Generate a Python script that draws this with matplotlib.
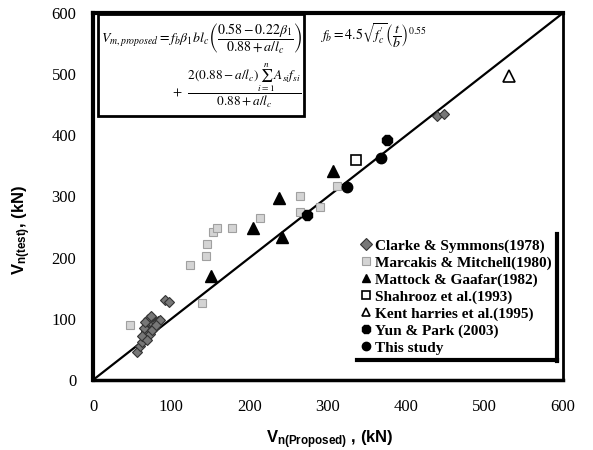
import matplotlib
matplotlib.use("Agg")
import matplotlib.pyplot as plt
from matplotlib.lines import Line2D
from matplotlib.patches import Rectangle

# shear strength: proposed model (x) vs. test (y), kN
clarke_x = [56, 60, 63, 66, 68, 70, 72, 70, 74, 76, 80, 83, 86, 65, 67, 73, 78, 62, 69, 75, 81, 92, 97, 439, 448]
clarke_y = [46, 55, 62, 70, 80, 88, 95, 100, 105, 92, 95, 96, 98, 85, 95, 75, 85, 72, 65, 82, 90, 130, 127, 432, 435]

marcakis_x = [47, 139, 124, 144, 146, 153, 158, 177, 213, 264, 264, 290, 311]
marcakis_y = [90, 126, 188, 203, 222, 242, 248, 248, 265, 301, 275, 283, 317]

mattock_x = [151, 204, 237, 241, 306]
mattock_y = [170, 248, 298, 234, 342]

shahrooz_x = [336]
shahrooz_y = [360]

kent_x = [531]
kent_y = [497]

yun_x = [273, 375]
yun_y = [270, 392]

study_x = [324, 368]
study_y = [316, 363]

ticks = [0, 100, 200, 300, 400, 500, 600]

plt.rcParams['mathtext.fontset'] = 'custom'
plt.rcParams['mathtext.rm'] = 'Liberation Sans:bold'
plt.rcParams['mathtext.bf'] = 'Liberation Sans:bold'
plt.rcParams['mathtext.it'] = 'Liberation Sans:bold'

W, H = 593, 450
fig = plt.figure(figsize=(5.93, 4.5), dpi=100)
ax = fig.add_axes([93 / W, 1 - 380 / H, (563 - 93) / W, (380 - 13) / H])

ax.plot([0, 600], [0, 600], color='black', lw=1.6, zorder=2)

ax.plot(clarke_x, clarke_y, 'D', ms=5.5, mfc='#777777', mec='#333333', mew=0.8, ls='none',
        label='Clarke & Symmons(1978)', zorder=3)
ax.plot(marcakis_x, marcakis_y, 's', ms=5.5, mfc='#d4d4d4', mec='#a0a0a0', mew=0.8, ls='none',
        label='Marcakis & Mitchell(1980)', zorder=3)
ax.plot(mattock_x, mattock_y, '^', ms=8, color='black', ls='none',
        label='Mattock & Gaafar(1982)', zorder=3)
ax.plot(shahrooz_x, shahrooz_y, 's', ms=7, mfc='white', mec='black', mew=1.2, ls='none',
        label='Shahrooz et al.(1993)', zorder=3)
ax.plot(kent_x, kent_y, '^', ms=8, mfc='white', mec='black', mew=1.2, ls='none',
        label='Kent harries et al.(1995)', zorder=3)
ax.plot(yun_x, yun_y, '8', ms=7.5, color='black', ls='none',
        label='Yun & Park (2003)', zorder=3)
ax.plot(study_x, study_y, 'o', ms=7.5, color='black', ls='none',
        label='This study', zorder=3)

ax.set_xlim(0, 600)
ax.set_ylim(0, 600)
ax.set_xticks(ticks)
ax.set_yticks(ticks)
ax.tick_params(length=0, labelsize=12)
ax.tick_params(axis='x', pad=14)
ax.tick_params(axis='y', pad=12)
for lbl in ax.get_xticklabels() + ax.get_yticklabels():
    lbl.set_fontfamily('Liberation Serif')

for side, lw in [('top', 3), ('left', 3), ('right', 2), ('bottom', 2.5)]:
    ax.spines[side].set_linewidth(lw)
    ax.spines[side].set_color('black')

fig.text(330 / W, 1 - 440 / H, r'$\mathbf{V_{n(Proposed)}}$ , (kN)', ha='center', va='center',
         fontsize=12, fontweight='bold', family='Liberation Sans')
fig.text(22 / W, 1 - 230 / H, r'$\mathbf{V_{n(test)}}$, (kN)', ha='center', va='center',
         rotation=90, fontsize=12, fontweight='bold', family='Liberation Sans')

# formula box
fig.patches.append(Rectangle((98 / W, 1 - 116 / H), (304 - 98) / W, (116 - 14) / H,
                             transform=fig.transFigure, fill=False, lw=2, ec='black', zorder=5))
fig.text(101 / W, 1 - 38 / H,
         r'$V_{m,proposed} = f_b\beta_1 b l_c\left(\dfrac{0.58-0.22\beta_1}{0.88+a/l_c}\right)$',
         ha='left', va='center', fontsize=10, math_fontfamily='stix')
fig.text(172 / W, 1 - 86 / H,
         r'$+\ \ \dfrac{2(0.88-a/l_c)\sum_{i=1}^{n}A_{si}f_{si}}{0.88+a/l_c}$',
         ha='left', va='center', fontsize=9.5, math_fontfamily='stix')
fig.text(320 / W, 1 - 36 / H,
         r'$f_b = 4.5\sqrt{f^{\prime}_c}\left(\dfrac{t}{b}\right)^{0.55}$',
         ha='left', va='center', fontsize=10, math_fontfamily='stix')

leg = ax.legend(loc='upper left', bbox_to_anchor=(352 / W, 1 - 231 / H),
                bbox_transform=fig.transFigure, frameon=False, borderpad=0,
                handlelength=0.8, handletextpad=0.2, labelspacing=0.21,
                prop={'family': 'Liberation Serif', 'weight': 'bold', 'size': 11})
for h in leg.legend_handles:
    h.set_markersize(6)

# shadow edges of the legend box
fig.add_artist(Line2D([557 / W, 557 / W], [1 - 234 / H, 1 - 361 / H], transform=fig.transFigure,
                      color='black', lw=3))
fig.add_artist(Line2D([357 / W, 557 / W], [1 - 360 / H, 1 - 360 / H], transform=fig.transFigure,
                      color='black', lw=3))

fig.savefig('out.png', dpi=100)
